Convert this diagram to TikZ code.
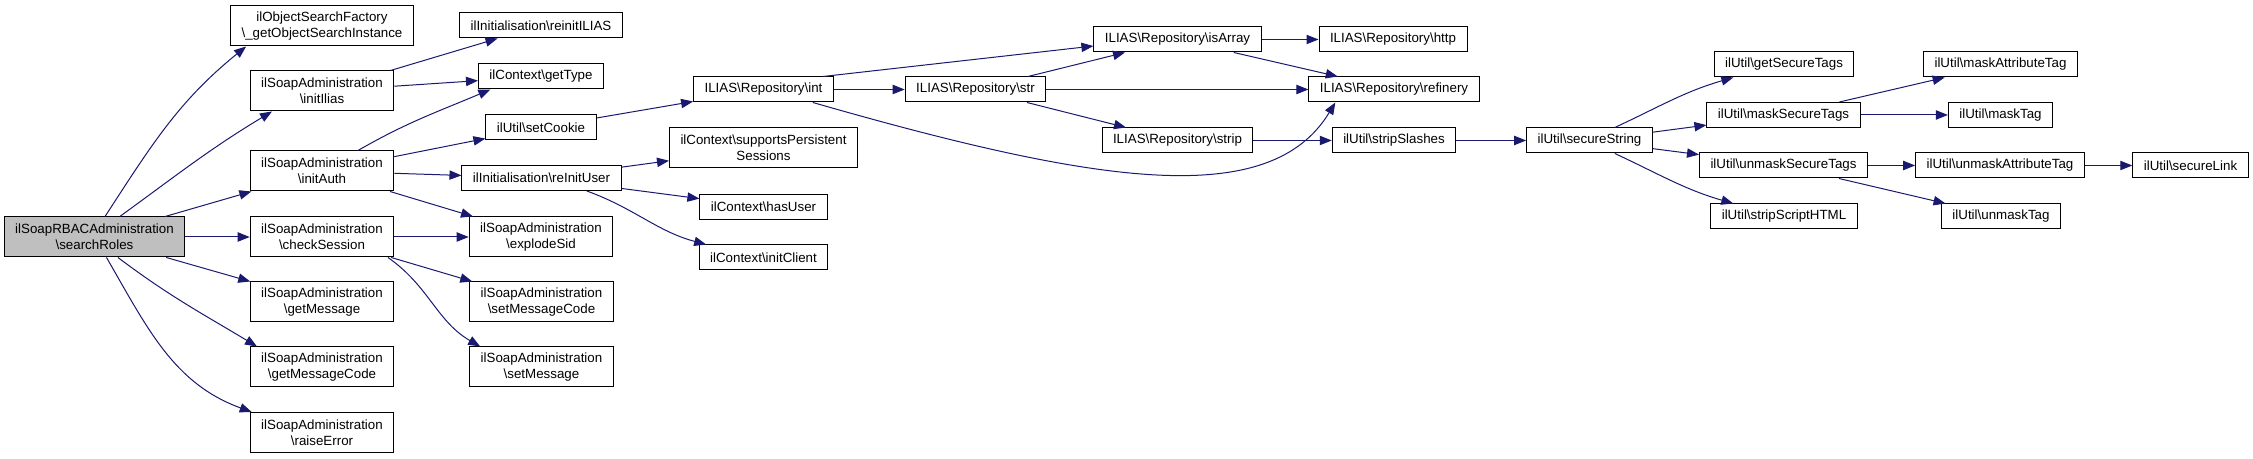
\documentclass[tikz,border=0pt]{standalone}
\usepackage{fontspec}
\setmainfont{Liberation Sans}
\usetikzlibrary{arrows.meta}
\definecolor{edgeblue}{HTML}{191970}
\definecolor{rootgray}{HTML}{BFBFBF}
\newcommand{\bks}{\textbackslash}
\begin{document}
\begin{tikzpicture}[x=0.75pt,y=0.75pt,
  fn/.style={draw=black, line width=0.75pt, fill=white, font=\fontsize{10}{12}\selectfont, align=center, inner xsep=8.25pt, inner ysep=2pt, minimum height=18.75pt},
  fntwo/.style={fn, minimum height=30pt},
  call/.style={draw=edgeblue, line width=0.75pt, -{Triangle[length=9pt,width=7pt]}}]
\useasboundingbox (0,0) rectangle (2253,459);
\node[fntwo, fill=rootgray] (sr) at (94.5,222){ilSoapRBACAdministration\\\bks searchRoles};
\node[fntwo] (osf) at (322,433){ilObjectSearchFactory\\\bks\_getObjectSearchInstance};
\node[fntwo] (ilias) at (322,368){ilSoapAdministration\\\bks initIlias};
\node[fntwo] (auth) at (322,288){ilSoapAdministration\\\bks initAuth};
\node[fntwo] (chk) at (322,222){ilSoapAdministration\\\bks checkSession};
\node[fntwo] (getmsg) at (322,157){ilSoapAdministration\\\bks getMessage};
\node[fntwo] (getcode) at (322,92){ilSoapAdministration\\\bks getMessageCode};
\node[fntwo] (raise) at (322,26.5){ilSoapAdministration\\\bks raiseError};
\node[fn] (reinit) at (541,433.5){ilInitialisation\bks reinitILIAS};
\node[fn] (gettype) at (541,382.5){ilContext\bks getType};
\node[fn] (cookie) at (541,331.5){ilUtil\bks setCookie};
\node[fn] (reuser) at (541.5,281){ilInitialisation\bks reInitUser};
\node[fntwo] (explode) at (541,222){ilSoapAdministration\\\bks explodeSid};
\node[fntwo] (setcode) at (541.5,157){ilSoapAdministration\\\bks setMessageCode};
\node[fntwo] (setmsg) at (541.5,92){ilSoapAdministration\\\bks setMessage};
\node[fn] (rint) at (763.5,369.5){ILIAS\bks Repository\bks int};
\node[fntwo] (persist) at (763.5,311){ilContext\bks supportsPersistent\\Sessions};
\node[fn] (hasuser) at (763.5,252){ilContext\bks hasUser};
\node[fn] (initcl) at (763.5,201.5){ilContext\bks initClient};
\node[fn] (rstr) at (975.5,369.5){ILIAS\bks Repository\bks str};
\node[fn] (isarr) at (1177.5,419.5){ILIAS\bks Repository\bks isArray};
\node[fn] (rstrip) at (1177.5,318.5){ILIAS\bks Repository\bks strip};
\node[fn] (http) at (1393,419.5){ILIAS\bks Repository\bks http};
\node[fn] (refin) at (1394,369.5){ILIAS\bks Repository\bks refinery};
\node[fn] (slashes) at (1394,318.5){ilUtil\bks stripSlashes};
\node[fn] (secstr) at (1589.5,318.5){ilUtil\bks secureString};
\node[fn] (gettags) at (1784,394.5){ilUtil\bks getSecureTags};
\node[fn] (masktags) at (1783.5,344){ilUtil\bks maskSecureTags};
\node[fn] (unmasktags) at (1783.5,293.5){ilUtil\bks unmaskSecureTags};
\node[fn] (strhtml) at (1784,242.5){ilUtil\bks stripScriptHTML};
\node[fn] (maskattr) at (2000.5,394.5){ilUtil\bks maskAttributeTag};
\node[fn] (masktag) at (2000.5,344){ilUtil\bks maskTag};
\node[fn] (unmaskattr) at (2000,293.5){ilUtil\bks unmaskAttributeTag};
\node[fn] (unmasktag) at (2001,242.5){ilUtil\bks unmaskTag};
\node[fn] (seclink) at (2190.5,293.5){ilUtil\bks secureLink};
\draw[call] ([xshift=7.9pt]sr.north) to[out=57,in=-141] ([xshift=12pt]osf.south west);
\draw[call] ([xshift=19pt]sr.north) to[out=36,in=-149] ([xshift=-37.5pt]ilias.south);
\draw[call] (sr) -- (auth);
\draw[call] (sr) -- (chk);
\draw[call] (sr) -- (getmsg);
\draw[call] ([xshift=17.6pt]sr.south) to[out=-37,in=149] ([xshift=-48.75pt]getcode.north);
\draw[call] ([xshift=9pt]sr.south) to[out=-60,in=160] ([xshift=1.5pt]raise.north west);
\draw[call] (ilias) -- (reinit);
\draw[call] (ilias) -- (gettype);
\draw[call] ([xshift=27pt]auth.north) to[out=30,in=-157] ([xshift=-38pt]gettype.south);
\draw[call] (auth) -- (cookie);
\draw[call] (auth) -- (reuser);
\draw[call] (auth) -- (explode);
\draw[call] (chk) -- (explode);
\draw[call] (chk) -- (setcode);
\draw[call] ([xshift=49.5pt]chk.south) to[out=-35,in=150] ([xshift=-46pt]setmsg.north);
\draw[call] (cookie) -- (rint);
\draw[call] (reuser) -- (persist);
\draw[call] (reuser) -- (hasuser);
\draw[call] ([xshift=34pt]reuser.south) to[out=-20,in=165] ([xshift=-43pt]initcl.north);
\draw[call] ([xshift=44.6pt]rint.north) -- ([yshift=-4.9pt]isarr.west);
\draw[call] (rint) -- (rstr);
\draw[call] ([xshift=37pt]rint.south) .. controls (1100,274) and (1270,249) .. ([xshift=-44pt]refin.south);
\draw[call] (rstr) -- (isarr);
\draw[call] (rstr) -- (refin);
\draw[call] (rstr) -- (rstrip);
\draw[call] (isarr) -- (http);
\draw[call] (isarr) -- (refin);
\draw[call] (rstrip) -- (slashes);
\draw[call] (slashes) -- (secstr);
\draw[call] ([xshift=19pt]secstr.north) to[out=25,in=-164] ([xshift=-38pt]gettags.south);
\draw[call] (secstr) -- (masktags);
\draw[call] (secstr) -- (unmasktags);
\draw[call] ([xshift=19pt]secstr.south) to[out=-25,in=164] ([xshift=-38pt]strhtml.north);
\draw[call] (masktags) -- (maskattr);
\draw[call] (masktags) -- (masktag);
\draw[call] (unmasktags) -- (unmaskattr);
\draw[call] (unmasktags) -- (unmasktag);
\draw[call] (unmaskattr) -- (seclink);
\end{tikzpicture}
\end{document}
